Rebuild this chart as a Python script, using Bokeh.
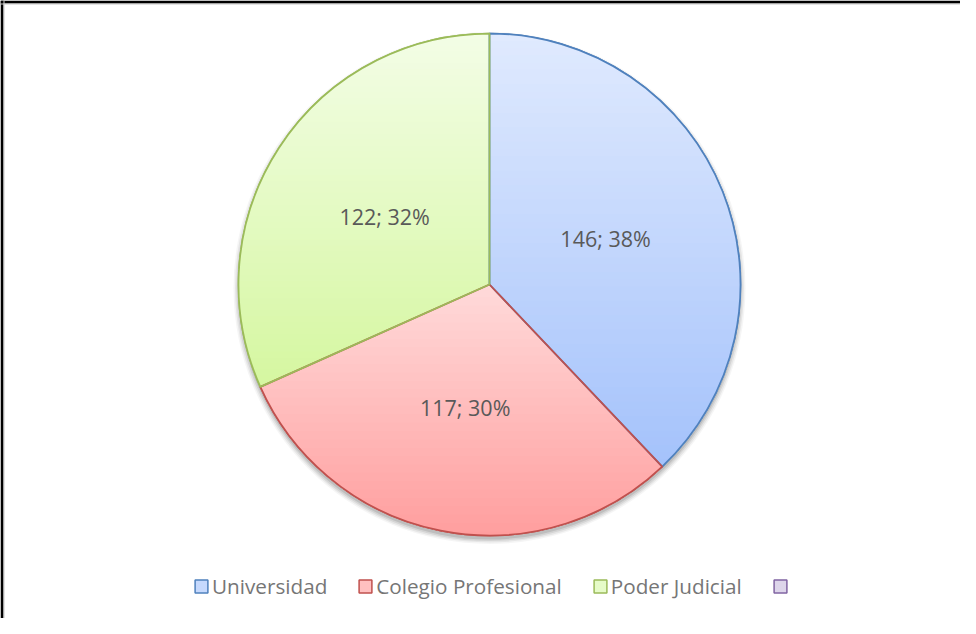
import numpy as np
from bokeh.plotting import figure
from bokeh.models import Range1d, Span, Legend, LegendItem, ColumnDataSource
from bokeh.core.properties import value
from bokeh.embed import file_html
from bokeh.resources import INLINE

# ---- data ----
categories = ["Universidad", "Colegio Profesional", "Poder Judicial"]
counts = [146, 117, 122]
extra_category = ""  # empty fourth legend entry

# ---- styles ----
line_colors = ["#4F81BD", "#C0504D", "#9BBB59"]
fill_mid = ["#c6d9fd", "#ffc0c0", "#e6fbc8"]
grad_top = ["#e0eafe", "#ffdada", "#f3fde6"]
grad_bot = ["#a4c2fb", "#ff9e9e", "#d5f7a0"]
extra_line = "#8064A2"
extra_fill = "#ddd5ea"

W, H = 960, 618
cx_px, cy_px = 489, 284
R = 251

p = figure(width=W, height=H, output_backend="svg", toolbar_location=None,
           x_range=Range1d(-cx_px, W - cx_px), y_range=Range1d(-(H - cy_px), cy_px),
           x_axis_type=None, y_axis_type=None, min_border=0)
p.grid.visible = False
p.outline_line_color = None
p.background_fill_color = "white"
p.border_fill_color = "white"

total = sum(counts)
fracs = np.array(counts) / total
cum = np.concatenate([[0], np.cumsum(fracs)])
start = np.pi / 2 - cum[:-1] * 2 * np.pi
end = np.pi / 2 - cum[1:] * 2 * np.pi
mid = (start + end) / 2

# shadow
for rr, a in [(R + 5, 0.04), (R + 3.5, 0.06), (R + 2, 0.08), (R + 0.5, 0.10)]:
    p.circle(x=[0], y=[-3.5], radius=rr, fill_color="black", fill_alpha=a, line_color=None)

src = ColumnDataSource(dict(cat=categories, val=counts, start=start, end=end,
                            fill=fill_mid, line=line_colors))
r_fill = p.wedge(x=0, y=0, radius=R, start_angle="start", end_angle="end", direction="clock",
                 fill_color="fill", line_color="line", line_width=1.5, source=src)

# gradient fill via horizontal bands
def clip_below(poly, c):
    out = []
    n = len(poly)
    for i in range(n):
        P = poly[i]; Q = poly[(i + 1) % n]
        inP = P[1] <= c; inQ = Q[1] <= c
        if inP:
            out.append(P)
        if inP != inQ:
            t = (c - P[1]) / (Q[1] - P[1])
            out.append((P[0] + t * (Q[0] - P[0]), c))
    return out

def hex2rgb(h):
    h = h.lstrip("#")
    return np.array([int(h[i:i + 2], 16) for i in (0, 2, 4)], dtype=float)

xs_all, ys_all, cols_all = [], [], []
NB = 60
for i in range(len(counts)):
    t = np.linspace(start[i], end[i], 300)
    poly = [(0.0, 0.0)] + [(R * np.cos(a), R * np.sin(a)) for a in t]
    ymax = max(q[1] for q in poly); ymin = min(q[1] for q in poly)
    tops = np.linspace(ymax, ymin, NB + 1)
    c0 = hex2rgb(grad_top[i]); c1 = hex2rgb(grad_bot[i])
    for k in range(NB):
        cp = clip_below(poly, tops[k] + (0.5 if k == 0 else 0))
        if len(cp) < 3:
            continue
        f = (k + 0.5) / NB
        c = c0 + (c1 - c0) * f
        xs_all.append([q[0] for q in cp]); ys_all.append([q[1] for q in cp])
        cols_all.append("#%02x%02x%02x" % tuple(int(round(v)) for v in c))
p.patches(xs=xs_all, ys=ys_all, fill_color=cols_all, line_color=None)

p.wedge(x=0, y=0, radius=R, start_angle="start", end_angle="end", direction="clock",
        fill_color=None, line_color="line", line_width=1.75, source=src)

# labels
lab_r = 125
labels = ["%d; %d%%" % (v, round(100 * v / total)) for v in counts]
p.text(x=lab_r * np.cos(mid), y=lab_r * np.sin(mid), text=labels,
       text_align="center", text_baseline="middle", text_font=value("Open Sans"),
       text_font_size="21.5px", text_color="#595959")

# dummy renderer for the empty fourth legend entry (nothing drawn in the plot)
r_dummy = p.rect(x=[float("nan")], y=[float("nan")], width=1, height=1,
                 fill_color=extra_fill, line_color=extra_line, line_width=1.5)

items = [LegendItem(label=c, renderers=[r_fill], index=i) for i, c in enumerate(categories)]
items.append(LegendItem(label=extra_category if extra_category else " ", renderers=[r_dummy], index=0))
legend = Legend(items=items, orientation="horizontal", location=(193, 18),
                glyph_width=16, glyph_height=16, label_standoff=3, spacing=30,
                padding=0, margin=0, border_line_color=None, background_fill_alpha=0,
                label_text_font="Open Sans", label_text_font_size="20.7px",
                label_text_color="#767676", label_height=16)
p.add_layout(legend, "center")

# frame lines (left and top)
xs0 = -cx_px; ys1 = cy_px
p.add_layout(Span(location=xs0 + 1.5, dimension="height", line_color="black", line_width=3))
p.add_layout(Span(location=ys1 - 1.5, dimension="width", line_color="black", line_width=3))
p.add_layout(Span(location=xs0 + 3.5, dimension="height", line_color="#c8c8c8", line_width=1))
p.add_layout(Span(location=ys1 - 3.5, dimension="width", line_color="#c8c8c8", line_width=1))

open("out.html", "w").write(file_html(p, INLINE))
